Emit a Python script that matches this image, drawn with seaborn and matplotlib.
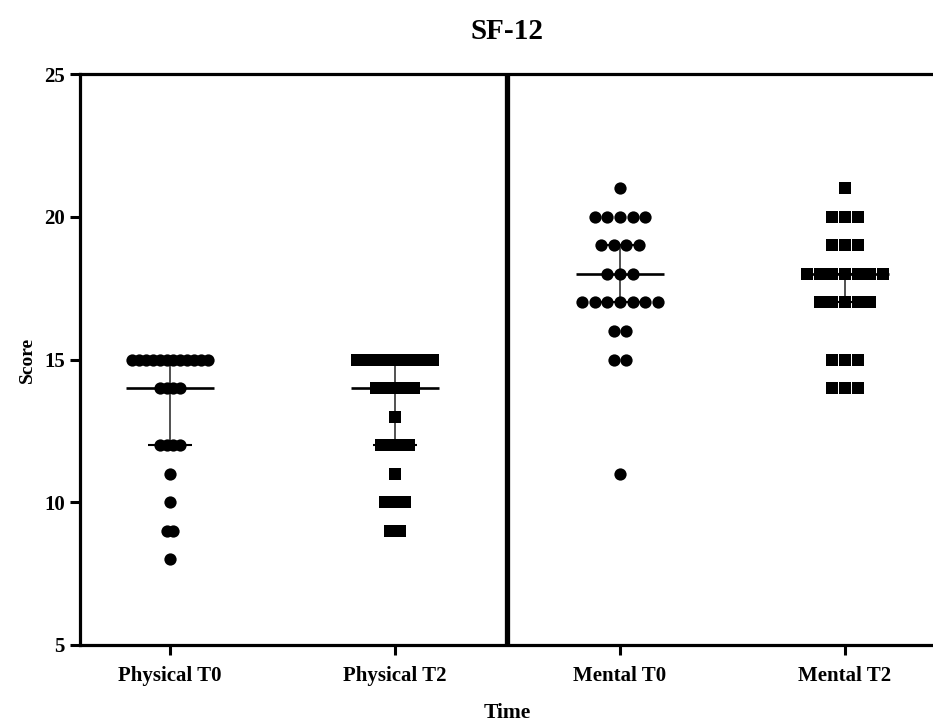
import numpy as np
import pandas as pd
import matplotlib
matplotlib.use("Agg")
import matplotlib.pyplot as plt
import seaborn as sns

# ---- data ----
groups = ["Physical T0", "Physical T2", "Mental T0", "Mental T2"]
shapes = ["T0", "T2", "T0", "T2"]
physical_t0 = [15]*12 + [14]*4 + [12]*4 + [11, 10, 9, 9, 8]
physical_t2 = [15]*9 + [14]*5 + [13] + [12]*4 + [11] + [10]*3 + [9]*2
mental_t0 = [21] + [20]*5 + [19]*4 + [18]*3 + [17]*7 + [16]*2 + [15]*2 + [11]
mental_t2 = [21] + [20]*3 + [19]*3 + [18]*7 + [17]*5 + [15]*3 + [14]*3
medians = [14, 14, 18, 18]
q1 = [12, 12, 17, 17]
q3 = [15, 15, 19, 18]
y_ticks = [5, 10, 15, 20, 25]

values = [physical_t0, physical_t2, mental_t0, mental_t2]

# ---- column-scatter layout (GraphPad style rows) ----
max_span = 0.338      # widest row, in x data units (centre to centre)
max_step = 0.0564     # spacing when rows are not crowded
rows = []
for gi, (g, vals, shp) in enumerate(zip(groups, values, shapes)):
    s = pd.Series(vals)
    counts = s.value_counts()
    nmax = counts.max()
    step = min(max_step, max_span / (nmax - 1)) if nmax > 1 else max_step
    for v, n in counts.items():
        offs = (np.arange(n) - (n - 1) / 2) * step
        for o in offs:
            rows.append({"group": g, "x": gi + o, "score": v, "shape": shp})
df = pd.DataFrame(rows)

sns.set_style("white")
plt.rcParams["font.family"] = ["Liberation Serif", "DejaVu Serif"]
plt.rcParams["font.weight"] = "bold"
plt.rcParams["text.color"] = "black"
plt.rcParams["axes.labelcolor"] = "black"
plt.rcParams["xtick.color"] = "black"
plt.rcParams["ytick.color"] = "black"

fig = plt.figure(figsize=(9.33, 7.22), dpi=100)
ax = fig.add_axes([80/933, 1 - 645/722, 855/933, (645 - 74)/722])

sns.scatterplot(data=df[df["shape"] == "T0"], x="x", y="score", marker="o",
                color="black", s=78, linewidth=0, legend=False, ax=ax, zorder=3)
sns.scatterplot(data=df[df["shape"] == "T2"], x="x", y="score", marker="s",
                color="black", s=70, linewidth=0, legend=False, ax=ax, zorder=3)

# median and interquartile range
xs = np.arange(len(groups))
ax.hlines(medians, xs - 0.196, xs + 0.196, color="black", lw=1.9, zorder=2)
ax.hlines(q1, xs - 0.098, xs + 0.098, color="black", lw=1.5, zorder=2)
ax.hlines(q3, xs - 0.098, xs + 0.098, color="black", lw=1.5, zorder=2)
ax.vlines(xs, q1, q3, color="#222222", lw=1.1, zorder=2)

# separator between Physical and Mental
ax.axvline(1.5, color="black", lw=3.8, zorder=4)

ax.set_xlim(-0.4, 3.4)
ax.set_ylim(5, 25)
ax.set_yticks(y_ticks)
ax.set_xticks(xs)
ax.set_xticklabels(groups, fontsize=15, fontweight="bold")
ax.set_yticklabels([str(t) for t in y_ticks], fontsize=15, fontweight="bold")

for sp in ax.spines.values():
    sp.set_linewidth(2.3)
    sp.set_color("black")
ax.tick_params(axis="both", direction="out", length=7, width=2.2,
               color="black", left=True, bottom=True, pad=4)
ax.tick_params(axis="x", pad=8)

ax.set_xlabel("Time", fontsize=15.5, fontweight="bold", labelpad=12)
ax.set_ylabel("Score", fontsize=14, fontweight="bold", labelpad=6)
ax.set_title("SF-12", fontsize=21, fontweight="bold", pad=25)

fig.savefig("out.png", dpi=100)
